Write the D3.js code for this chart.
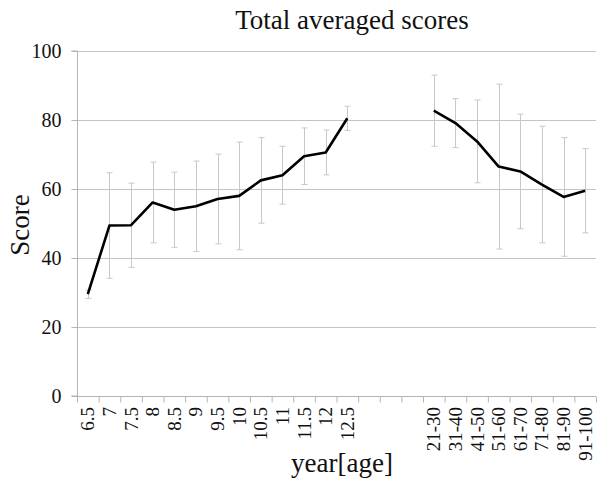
<!DOCTYPE html>
<html>
<head>
<meta charset="utf-8">
<script src="https://cdn.jsdelivr.net/npm/d3@7"></script>
<style>
  html, body { margin: 0; padding: 0; background: #fff; }
  svg { display: block; font-family: "Liberation Serif", "Times New Roman", serif; }
</style>
</head>
<body>
<svg id="chart" width="597" height="487"></svg>
<script>
// Children's age groups (years) and their averaged scores with standard deviations
const childAges  = ["6.5", "7", "7.5", "8", "8.5", "9", "9.5", "10", "10.5", "11", "11.5", "12", "12.5"];
const childMeans = [29.5, 49.4, 49.5, 56.1, 54.0, 55.0, 57.1, 58.0, 62.5, 64.0, 69.5, 70.6, 80.5];
const childSD    = [1.2, 15.3, 12.2, 11.7, 10.9, 13.1, 13.0, 15.6, 12.4, 8.4, 8.2, 6.5, 3.5];

// Adult age brackets
const adultAges  = ["21-30", "31-40", "41-50", "51-60", "61-70", "71-80", "81-90", "91-100"];
const adultMeans = [82.7, 79.1, 73.8, 66.5, 65.1, 61.3, 57.7, 59.5];
const adultSD    = [10.3, 7.1, 12.0, 23.9, 16.6, 16.9, 17.2, 12.2];

// Empty slots separating the two groups on the category axis
const gapSlots = ["gap-a", "gap-b", "gap-c"];

const yTicks = [0, 20, 40, 60, 80, 100];

const svg = d3.select("#chart");
const margin = { top: 51, right: 1, bottom: 91, left: 77 };
const width = 597, height = 487;
const innerW = width - margin.left - margin.right;
const innerH = height - margin.top - margin.bottom;
const serif = "Liberation Serif, Times New Roman, serif";

const categories = childAges.concat(gapSlots, adultAges);

const x = d3.scaleBand().domain(categories).range([margin.left, margin.left + innerW]).padding(0);
const y = d3.scaleLinear().domain([0, 100]).range([margin.top + innerH, margin.top]);

const gridColor = "#c4c4c4";
const axisColor = "#b4b4b4";
const textColor = "#111";

// Horizontal gridlines
svg.append("g")
  .selectAll("line")
  .data(yTicks.filter(t => t > 0))
  .join("line")
  .attr("x1", margin.left).attr("x2", margin.left + innerW)
  .attr("y1", d => Math.round(y(d)) + 0.5).attr("y2", d => Math.round(y(d)) + 0.5)
  .attr("stroke", gridColor).attr("stroke-width", 1);

// Y axis
const yAxis = svg.append("g")
  .attr("transform", `translate(${margin.left + 0.5},0)`)
  .call(d3.axisLeft(y).tickValues(yTicks).tickSize(6).tickPadding(10).tickFormat(d3.format("d")));
yAxis.select(".domain").attr("stroke", axisColor).attr("d", `M-6,${y(0)}H0V${y(100)}H-6`);
yAxis.selectAll(".tick line").attr("stroke", axisColor);
yAxis.selectAll(".tick text")
  .attr("fill", textColor).style("font-size", "20px")
  .attr("font-family", serif);

// X axis: boundary ticks between categories
const boundaries = d3.scaleLinear().domain([0, categories.length]).range([margin.left, margin.left + innerW]);
const xTickAxis = svg.append("g")
  .attr("transform", `translate(0,${Math.round(y(0)) + 0.5})`)
  .call(d3.axisBottom(boundaries).tickValues(d3.range(0, categories.length + 1)).tickSize(6).tickFormat(""));
xTickAxis.select(".domain").attr("stroke", axisColor).attr("d", `M${margin.left},0H${margin.left + innerW}`);
xTickAxis.selectAll(".tick line").attr("stroke", axisColor);

// X axis category labels, rotated
const xLabelAxis = svg.append("g")
  .attr("transform", `translate(0,${Math.round(y(0))})`)
  .call(d3.axisBottom(x).tickSize(0).tickPadding(0).tickFormat(d => gapSlots.includes(d) ? "" : d));
xLabelAxis.select(".domain").remove();
xLabelAxis.selectAll(".tick text")
  .attr("fill", textColor).style("font-size", "19px")
  .attr("font-family", serif)
  .attr("text-anchor", "end")
  .attr("dominant-baseline", "central")
  .attr("transform", "translate(0,11) rotate(-90)")
  .attr("x", 0).attr("y", 0).attr("dy", null);

// Series rows
const rows = childAges.map((a, i) => ({ cat: a, mean: childMeans[i], sd: childSD[i] }))
  .concat(adultAges.map((a, i) => ({ cat: a, mean: adultMeans[i], sd: adultSD[i] })));
const cx = d => x(d.cat) + x.bandwidth() / 2;

// Error bars
const eb = svg.append("g").attr("stroke", "#c8c8c8").attr("stroke-width", 1).attr("fill", "none");
eb.selectAll("line.v").data(rows).join("line").attr("class", "v")
  .attr("x1", d => Math.round(cx(d)) + 0.5).attr("x2", d => Math.round(cx(d)) + 0.5)
  .attr("y1", d => y(d.mean + d.sd)).attr("y2", d => y(d.mean - d.sd));
eb.selectAll("line.t").data(rows).join("line").attr("class", "t")
  .attr("x1", d => Math.round(cx(d)) - 2.5).attr("x2", d => Math.round(cx(d)) + 3.5)
  .attr("y1", d => y(d.mean + d.sd)).attr("y2", d => y(d.mean + d.sd));
eb.selectAll("line.b").data(rows).join("line").attr("class", "b")
  .attr("x1", d => Math.round(cx(d)) - 2.5).attr("x2", d => Math.round(cx(d)) + 3.5)
  .attr("y1", d => y(d.mean - d.sd)).attr("y2", d => y(d.mean - d.sd));

// Mean score lines, one per group
const line = d3.line().x(cx).y(d => y(d.mean));
const groups = [rows.slice(0, childAges.length), rows.slice(childAges.length)];
svg.append("g").selectAll("path").data(groups).join("path")
  .attr("d", line)
  .attr("fill", "none").attr("stroke", "#000").attr("stroke-width", 2.6)
  .attr("stroke-linejoin", "round").attr("stroke-linecap", "butt");

// Titles
svg.append("text")
  .attr("x", 352).attr("y", 29)
  .attr("text-anchor", "middle").attr("fill", textColor)
  .style("font-size", "27px").text("Total averaged scores");

svg.append("text")
  .attr("x", 342).attr("y", 472)
  .attr("text-anchor", "middle").attr("fill", textColor)
  .style("font-size", "27px").text("year[age]");

svg.append("text")
  .attr("transform", "translate(29,225) rotate(-90)")
  .attr("text-anchor", "middle").attr("fill", textColor)
  .style("font-size", "27px").text("Score");
</script>
</body>
</html>
